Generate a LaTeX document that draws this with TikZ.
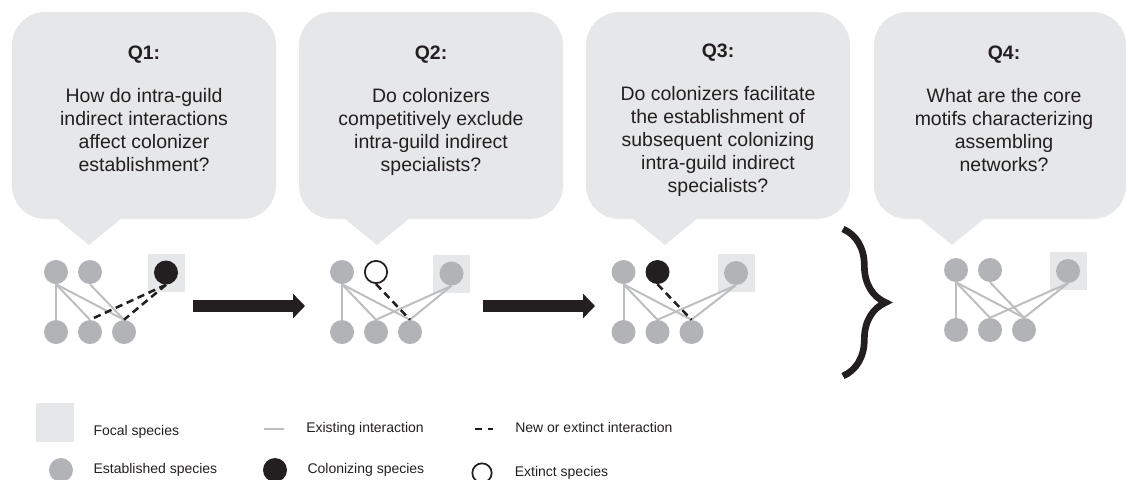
\documentclass[tikz,border=0pt]{standalone}
\usepackage{fontspec}
\setmainfont{Liberation Sans}
\usetikzlibrary{positioning, arrows.meta, decorations.pathreplacing, calc}
\definecolor{bubblegray}{RGB}{230,231,232}
\definecolor{speciesgray}{RGB}{177,179,182}
\definecolor{linkgray}{RGB}{188,190,192}
\definecolor{inkblack}{RGB}{35,31,32}

\begin{document}
\begin{tikzpicture}[
        x=0.75pt, y=-0.75pt,
        node distance=45pt and 25.5pt,
        bubble/.style={fill=bubblegray, rounded corners=25pt, minimum width=198pt, minimum height=155.25pt, inner sep=0pt},
        qtext/.style={align=center, inner sep=0pt, text=inkblack, font=\fontsize{14.6}{17.25}\selectfont},
        species/.style={circle, fill=speciesgray, minimum size=18pt, inner sep=0pt},
        colonizer/.style={species, fill=inkblack},
        extinct/.style={circle, draw=inkblack, line width=1.3pt, fill=white, minimum size=16.7pt, inner sep=0pt},
        focal/.style={fill=bubblegray, minimum width=27.75pt, minimum height=28.5pt, inner sep=0pt},
        link/.style={draw=linkgray, line width=1.5pt},
        newlink/.style={draw=inkblack, line width=1.9pt, dash pattern=on 5.5pt off 3.5pt},
        bigarrow/.style={draw=inkblack, line width=9pt, -{Triangle[length=9pt, width=18pt]}},
        legtext/.style={font=\fontsize{10.5}{12}\selectfont, text=inkblack, inner sep=0pt},
    ]
        \useasboundingbox (0,0) rectangle (1126,479);

        % Question bubbles
        \node[bubble] (q1) at (144,115.5) {};
        \node[bubble] (q2) at (431,115.5) {};
        \node[bubble] (q3) at (718,115.5) {};
        \node[bubble, minimum width=189pt] (q4) at (1000,115.5) {};
        \foreach \tip in {89, 377, 665, 952}
            \fill[bubblegray] (\tip-33,218) -- (\tip+33,218) -- (\tip,245) -- cycle;

        \node[qtext, below=25.5pt of q1.north] (qt1) {\textbf{Q1:}\\[15pt]How do intra-guild\\indirect interactions\\affect colonizer\\establishment?};
        \node[qtext, below=25.5pt of q2.north] (qt2) {\textbf{Q2:}\\[15pt]Do colonizers\\competitively exclude\\intra-guild indirect\\specialists?};
        \node[qtext, below=24pt of q3.north] (qt3) {\textbf{Q3:}\\[15pt]Do colonizers facilitate\\the establishment of\\subsequent colonizing\\intra-guild indirect\\specialists?};
        \node[qtext, below=25.5pt of q4.north, xshift=3pt] (qt4) {\textbf{Q4:}\\[15pt]What are the core\\motifs characterizing\\assembling\\networks?};

        \begin{scope}[on grid]
            % Network 1: colonizer arrives
            \node[focal] (sq1) at (166,272.5) {};
            \node[colonizer] (u1f) at (sq1) {};
            \node[species] (u1a) at (56,272) {};
            \node[species, right=of u1a] (u1b) {};
            \node[species, below=of u1a] (l1a) {};
            \node[species, right=of l1a] (l1b) {};
            \node[species, right=of l1b] (l1c) {};

            % Network 2: extinction
            \node[focal] (sq2) at (451.5,273.5) {};
            \node[species] (u2f) at (sq2) {};
            \node[species] (u2a) at (342,272) {};
            \node[extinct, right=of u2a] (u2b) {};
            \node[species, below=of u2a] (l2a) {};
            \node[species, right=of l2a] (l2b) {};
            \node[species, right=of l2b] (l2c) {};

            % Network 3: new colonizer
            \node[focal] (sq3) at (736,273) {};
            \node[species] (u3f) at (sq3) {};
            \node[species] (u3a) at (623.5,272) {};
            \node[colonizer, right=of u3a] (u3b) {};
            \node[species, below=of u3a] (l3a) {};
            \node[species, right=of l3a] (l3b) {};
            \node[species, right=of l3b] (l3c) {};

            % Network 4: core motif
            \node[focal] (sq4) at (1068,271) {};
            \node[species] (u4f) at (sq4) {};
            \node[species] (u4a) at (956,270) {};
            \node[species, right=of u4a] (u4b) {};
            \node[species, below=of u4a] (l4a) {};
            \node[species, right=of l4a] (l4b) {};
            \node[species, right=of l4b] (l4c) {};
        \end{scope}

        \draw[link] (u1a.south) -- (l1a.north);
        \draw[link] (u1a.south) -- (l1b.north);
        \draw[link] (u1a.south) -- (l1c.north);
        \draw[link] (u1b.south) -- (l1c.north);
        \draw[newlink] (u1f.south) -- (l1b.north);
        \draw[newlink] (u1f.south) -- (l1c.north);

        \draw[link] (u2a.south) -- (l2a.north);
        \draw[link] (u2a.south) -- (l2b.north);
        \draw[link] (u2a.south) -- (l2c.north);
        \draw[link] (u2f.south) -- (l2b.north);
        \draw[link] (u2f.south) -- (l2c.north);
        \draw[newlink] (u2b.south) -- (l2c.north);

        \draw[link] (u3a.south) -- (l3a.north);
        \draw[link] (u3a.south) -- (l3b.north);
        \draw[link] (u3a.south) -- (l3c.north);
        \draw[link] (u3f.south) -- (l3b.north);
        \draw[link] (u3f.south) -- (l3c.north);
        \draw[newlink] (u3b.south) -- (l3c.north);

        \draw[link] (u4a.south) -- (l4a.north);
        \draw[link] (u4a.south) -- (l4b.north);
        \draw[link] (u4a.south) -- (l4c.north);
        \draw[link] (u4b.south) -- (l4c.north);
        \draw[link] (u4f.south) -- (l4b.north);
        \draw[link] (u4f.south) -- (l4c.north);

        % Arrows and brace
        \coordinate (ar1s) at (193,306);
        \coordinate (ar1e) at (305,306);
        \coordinate (ar2s) at (483,306);
        \coordinate (ar2e) at (595,306);
        \draw[bigarrow] (ar1s) -- (ar1e);
        \draw[bigarrow] (ar2s) -- (ar2e);
        \coordinate (brTop) at (843,229);
        \coordinate (brBot) at (843,376);
        \draw[inkblack, line width=5pt, decorate, decoration={brace, amplitude=32pt}] (brTop) -- (brBot);

        % Legend
        \node[focal, minimum width=28.5pt, minimum height=29.25pt] (lgsq) at (55,422.5) {};
        \node[species] (lgdot) at (61,470) {};
        \node[colonizer] (lgcol) at (275,470) {};
        \node[extinct, minimum size=14.5pt] (lgext) at (482,473) {};
        \coordinate (lgl1) at (264,429);
        \coordinate (lgl2) at (284,429);
        \coordinate (lgd1) at (475,429);
        \coordinate (lgd2) at (495,429);
        \draw[link] (lgl1) -- (lgl2);
        \draw[newlink, dash pattern=on 5.5pt off 4pt on 4pt] (lgd1) -- (lgd2);

        \node[legtext, right=14.25pt of lgsq, anchor=mid west, yshift=-7pt] (lgsqtxt) {Focal species};
        \node[legtext, right=15pt of lgdot, anchor=mid west] (lgdottxt) {Established species};
        \node[legtext, right=16.5pt of lgl2, anchor=mid west] (lgltxt) {Existing interaction};
        \node[legtext, right=15pt of lgcol, anchor=mid west] (lgcoltxt) {Colonizing species};
        \node[legtext, right=15pt of lgd2, anchor=mid west] (lgdtxt) {New or extinct interaction};
        \node[legtext, right=16.5pt of lgext, anchor=mid west] (lgexttxt) {Extinct species};
    \end{tikzpicture}
\end{document}
